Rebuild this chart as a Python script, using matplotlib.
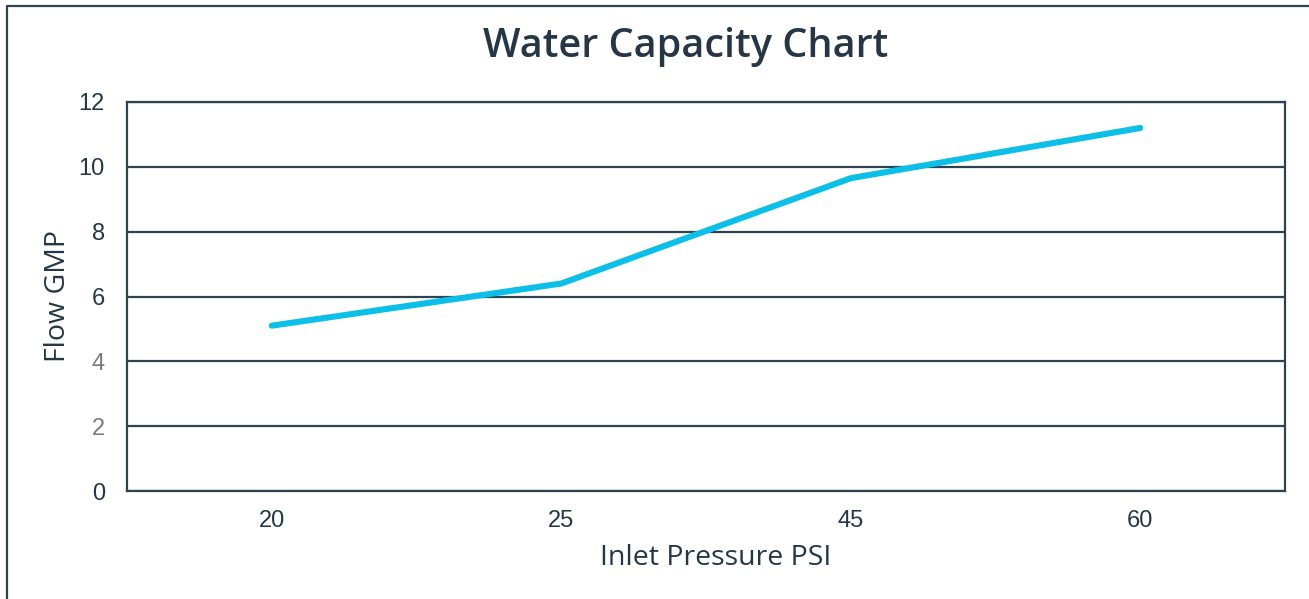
import matplotlib
matplotlib.use("Agg")
import matplotlib.pyplot as plt
from matplotlib.lines import Line2D

pressure_labels = ["20", "25", "45", "60"]
flow_gpm = [5.1, 6.4, 9.65, 11.2]
y_ticks = [0, 2, 4, 6, 8, 10, 12]
y_tick_colors = ["#253746", "#7a7a7a", "#7a7a7a", "#253746", "#253746", "#253746", "#253746"]

W, H = 1309, 599
fig = plt.figure(figsize=(W / 100, H / 100), dpi=100)
ax = fig.add_axes([127 / W, 1 - 491 / H, (1285 - 127) / W, (491 - 102) / H])

dark = "#253746"
grid = "#2f4250"
xs = list(range(len(pressure_labels)))
ax.plot(xs, flow_gpm, color="#0bbfe9", lw=4.4, solid_capstyle="round", solid_joinstyle="round", zorder=3)

ax.set_xlim(-0.5, len(pressure_labels) - 0.5)
ax.set_ylim(0, 12)
ax.set_yticks(y_ticks)
ax.set_yticklabels([str(t) for t in y_ticks], family="Liberation Sans", fontsize=17)
for lbl, c in zip(ax.get_yticklabels(), y_tick_colors):
    lbl.set_color(c)
ax.set_xticks(xs)
ax.set_xticklabels(pressure_labels, family="Liberation Sans", fontsize=17, color=dark)
ax.tick_params(axis="both", length=0)
ax.tick_params(axis="y", pad=16)
ax.tick_params(axis="x", pad=14)
ax.yaxis.grid(True, color=grid, lw=1.6, zorder=1)
ax.set_axisbelow(True)
for s in ax.spines.values():
    s.set_color(grid)
    s.set_linewidth(1.6)

ax.set_xlabel("Inlet Pressure PSI", family="Open Sans", fontsize=20.5, color=dark, labelpad=8)
ax.xaxis.label.set_x(0.5086)
ax.set_ylabel("Flow GMP", family="Open Sans", fontsize=20.5, color=dark, labelpad=5)

fig.text(686 / W, 1 - 47 / H, "Water Capacity Chart", family="Open Sans", fontsize=28.5,
         fontweight="semibold", color=dark, ha="center", va="center")

# outer frame (left and top edges visible)
fig.add_artist(Line2D([7 / W, 7 / W, 1.0], [0.0, 1 - 6 / H, 1 - 6 / H], transform=fig.transFigure,
                      color="#2f4250", lw=1.6))

fig.savefig("out.png", dpi=100, facecolor="white")
